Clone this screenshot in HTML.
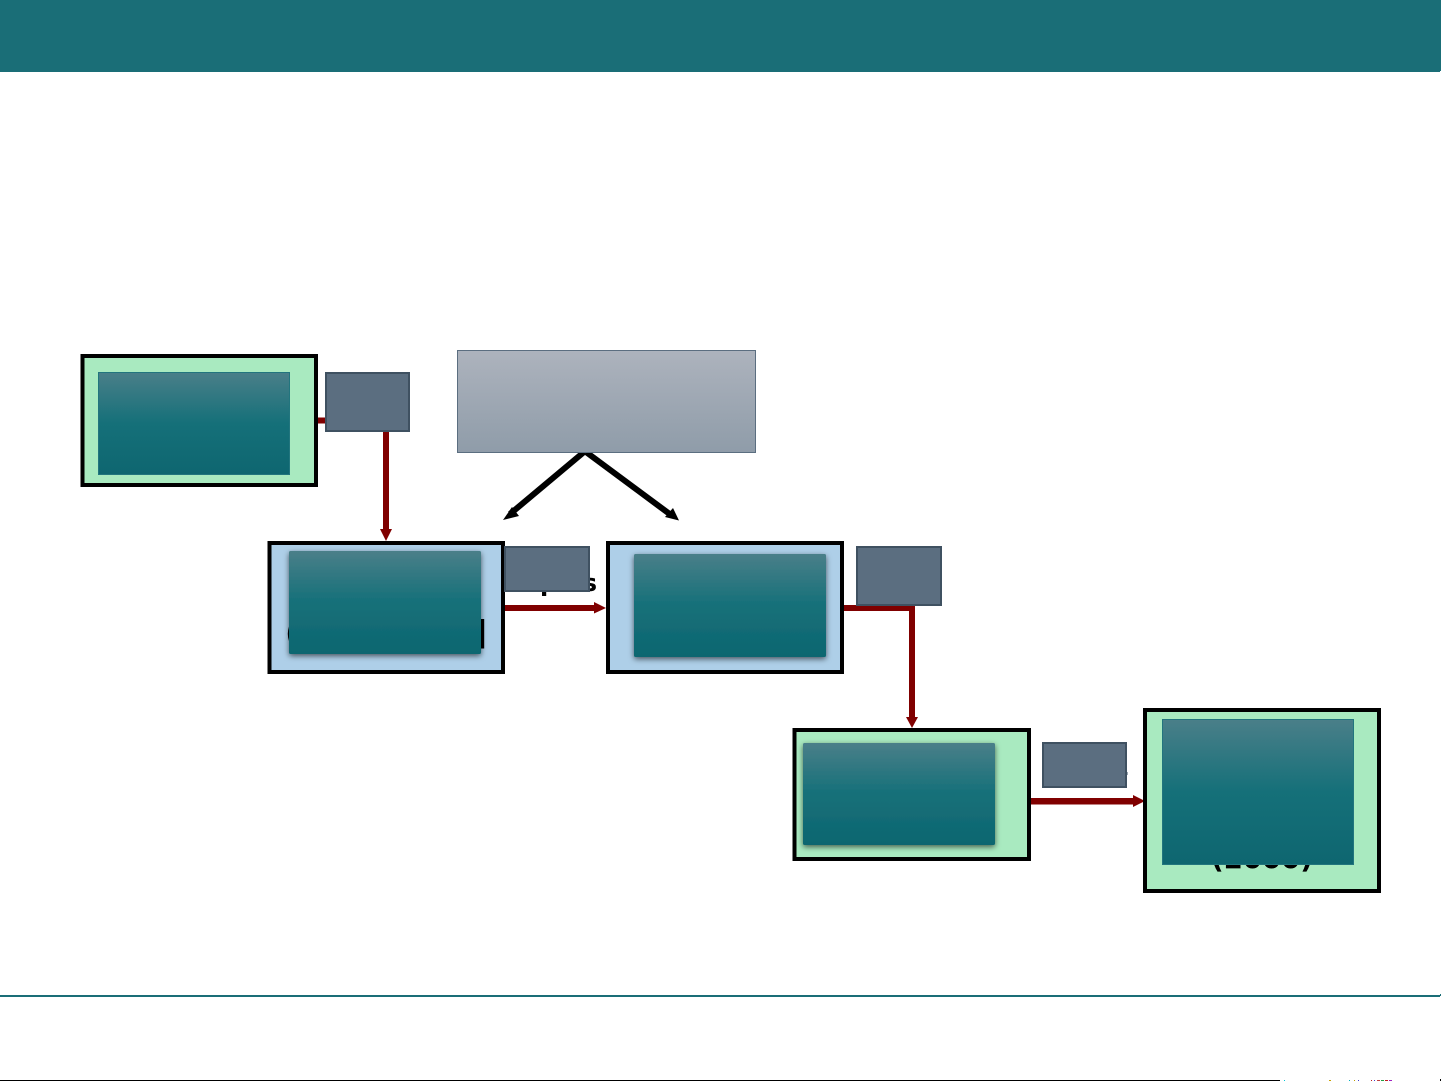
<!DOCTYPE html>
<html>
<head>
<meta charset="utf-8">
<style>
html,body{margin:0;padding:0;background:#fff;}
body{width:1441px;height:1081px;overflow:hidden;position:relative;}
svg{position:absolute;left:0;top:0;}
text{font-family:"DejaVu Sans","Liberation Sans",sans-serif;font-weight:bold;fill:#000;}
</style>
</head>
<body>
<svg width="1441" height="1081" viewBox="0 0 1441 1081" xmlns="http://www.w3.org/2000/svg">
<defs>
<linearGradient id="teal" x1="0" y1="0" x2="0" y2="1">
<stop offset="0" stop-color="#4a7f89"/>
<stop offset="0.5" stop-color="#157079"/>
<stop offset="1" stop-color="#0e6670"/>
</linearGradient>
<linearGradient id="grey" x1="0" y1="0" x2="0" y2="1">
<stop offset="0" stop-color="#adb3bd"/>
<stop offset="1" stop-color="#8f9ca9"/>
</linearGradient>
<filter id="sh" x="-10%" y="-10%" width="120%" height="125%">
<feDropShadow dx="0" dy="2" stdDeviation="3" flood-color="#000" flood-opacity="0.6"/>
</filter>
</defs>

<!-- header -->
<rect x="0" y="0" width="1441" height="72" fill="#1a6e77"/>
<rect x="1440" y="71" width="1" height="1" fill="#fff"/>

<!-- footer -->
<rect x="0" y="995" width="1440" height="2" fill="#1a6e77"/>
<rect x="1440" y="994" width="1" height="2" fill="#1a6e77"/>
<rect x="0" y="1080" width="1280" height="1" fill="#000"/>
<g>
<rect x="1284" y="1080" width="1" height="1" fill="#00c8d8"/>
<rect x="1329" y="1080" width="2" height="1" fill="#c8a000"/>
<rect x="1349" y="1080" width="1" height="1" fill="#00b0c0"/>
<rect x="1354" y="1080" width="1" height="1" fill="#c0a000"/>
<rect x="1358" y="1080" width="1" height="1" fill="#4040d0"/>
<rect x="1371" y="1080" width="1" height="1" fill="#c02020"/>
<rect x="1374" y="1080" width="1" height="1" fill="#4040d0"/>
<rect x="1377" y="1080" width="3" height="1" fill="#c04040"/>
<rect x="1381" y="1080" width="3" height="1" fill="#20a040"/>
<rect x="1385" y="1080" width="3" height="1" fill="#c02020"/>
<rect x="1389" y="1080" width="3" height="1" fill="#a020c0"/>
<rect x="1440" y="1079" width="1" height="2" fill="#000"/>
</g>

<!-- connector 1 -->
<rect x="318" y="417.5" width="8" height="6" fill="#800000"/>
<rect x="383" y="431" width="6" height="100" fill="#800000"/>
<polygon points="380,529 392,529 386,541" fill="#800000"/>

<!-- connector 2 to 3 -->
<rect x="504" y="605" width="92" height="6" fill="#800000"/>
<polygon points="594,602 606,608 594,613.5" fill="#800000"/>

<!-- connector 3 to 4 -->
<rect x="843" y="605" width="72" height="6" fill="#800000"/>
<rect x="909" y="605" width="6" height="114" fill="#800000"/>
<polygon points="906,717 918,717 912,728" fill="#800000"/>

<!-- connector 4 to 5 -->
<rect x="1030" y="798" width="105" height="6.5" fill="#800000"/>
<polygon points="1133,795 1145,801 1133,807" fill="#800000"/>

<!-- black arrows -->
<line x1="584" y1="452" x2="510" y2="514" stroke="#000" stroke-width="6"/>
<polygon points="503,520 512,507 519,516" fill="#000"/>
<line x1="586" y1="452" x2="671" y2="515" stroke="#000" stroke-width="6"/>
<polygon points="679,520.5 665,517 673,508" fill="#000"/>

<!-- box 1 -->
<rect x="82.5" y="356" width="233.5" height="129" fill="#a9eac0" stroke="#000" stroke-width="4"/>
<rect x="98.5" y="372.5" width="191" height="102" fill="url(#teal)" stroke="#22757e" stroke-width="1"/>

<!-- grey 1 -->
<rect x="326" y="373" width="83" height="58" fill="#5b6e80" stroke="#3f5161" stroke-width="2"/>

<!-- outputs label, beneath box 2 and grey 2 -->
<text x="494" y="591" font-size="24" textLength="103" lengthAdjust="spacing">Outputs</text>

<!-- box 2 -->
<rect x="269.5" y="543" width="233.5" height="129" fill="#aecfe8" stroke="#000" stroke-width="4"/>
<text x="285" y="644" font-size="32.5" textLength="202" lengthAdjust="spacing">(Jones et al.]</text>
<rect x="289" y="551" width="192" height="103" rx="1.5" fill="url(#teal)" filter="url(#sh)"/>

<!-- grey 2 -->
<rect x="505" y="547" width="84" height="44" fill="#5b6e80" stroke="#3f5161" stroke-width="2"/>

<!-- box 3 -->
<rect x="608" y="543" width="234" height="129" fill="#aecfe8" stroke="#000" stroke-width="4"/>
<rect x="634" y="554" width="192" height="103" rx="1.5" fill="url(#teal)" filter="url(#sh)"/>

<!-- grey 3 -->
<rect x="857" y="547" width="84" height="58" fill="#5b6e80" stroke="#3f5161" stroke-width="2"/>

<!-- box 4 -->
<rect x="794.5" y="730" width="234.5" height="129" fill="#a9eac0" stroke="#000" stroke-width="4"/>
<rect x="803" y="743" width="192" height="102" rx="1.5" fill="url(#teal)" filter="url(#sh)"/>

<!-- grey 4 -->
<rect x="1127" y="772" width="1" height="3" fill="#9aa6b0"/>
<rect x="1043" y="743" width="83" height="44" fill="#5b6e80" stroke="#3f5161" stroke-width="2"/>

<!-- box 5 -->
<rect x="1145" y="710" width="234" height="181" fill="#a9eac0" stroke="#000" stroke-width="4"/>
<text x="1262" y="868" font-size="27.5" text-anchor="middle">(2000)</text>
<rect x="1162.5" y="719.5" width="191" height="145" fill="url(#teal)" stroke="#22757e" stroke-width="1"/>

<!-- centre grey -->
<rect x="457.5" y="350.5" width="298" height="102" fill="url(#grey)" stroke="#5b6e80" stroke-width="1"/>
</svg>
</body>
</html>
